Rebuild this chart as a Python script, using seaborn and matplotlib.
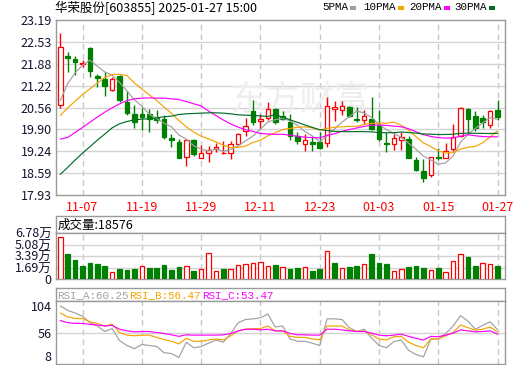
import numpy as np
import pandas as pd
import matplotlib
matplotlib.use("Agg")
import matplotlib.pyplot as plt
import seaborn as sns
from matplotlib.patches import Rectangle

# ---- data (华荣股份 603855, daily) ----
open_ = [20.64, 22.10, 22.03, 21.87, 22.36, 21.50, 21.43, 21.09, 21.50, 20.72,
         20.37, 20.37, 20.37, 20.24, 20.20, 19.64, 19.53, 19.06, 19.59, 19.04,
         19.19, 19.31, 19.18, 19.18, 19.46, 19.86, 20.44, 20.14, 20.25, 20.52,
         20.29, 20.12, 19.69, 19.46, 19.53, 19.53, 19.49, 20.52, 20.49, 20.59,
         20.21, 20.19, 20.20, 20.02, 19.49, 19.46, 19.58, 19.61, 18.98, 18.66,
         18.52, 19.08, 19.04, 19.31, 19.71, 20.50, 20.29, 20.25, 20.02, 20.47]
high = [22.79, 22.23, 22.10, 22.00, 22.38, 21.58, 21.63, 21.48, 21.53, 21.05,
        20.65, 20.55, 20.50, 20.49, 20.32, 19.76, 19.61, 19.61, 19.61, 19.44,
        19.41, 19.48, 19.56, 19.54, 19.78, 20.25, 20.79, 20.35, 20.72, 20.55,
        20.45, 20.35, 19.81, 19.76, 19.71, 19.81, 20.89, 20.77, 20.75, 20.62,
        20.59, 20.49, 20.89, 20.47, 19.81, 19.76, 19.81, 19.71, 19.08, 19.01,
        19.08, 19.34, 19.48, 20.07, 20.59, 20.54, 20.44, 20.32, 20.49, 20.80]
low = [20.55, 21.63, 21.53, 21.78, 21.48, 21.17, 20.92, 21.07, 20.74, 20.32,
       19.94, 19.87, 19.81, 20.09, 19.61, 19.38, 19.03, 18.81, 19.09, 19.04,
       18.91, 19.21, 19.16, 19.01, 19.44, 19.71, 20.02, 19.92, 20.19, 20.07,
       20.17, 19.59, 19.46, 19.24, 19.24, 19.31, 19.36, 20.15, 20.34, 20.27,
       20.12, 20.07, 19.88, 19.54, 19.21, 19.28, 19.28, 19.03, 18.66, 18.33,
       18.48, 18.98, 19.03, 19.26, 19.66, 19.76, 19.86, 19.95, 19.95, 20.19]
close = [22.38, 22.06, 21.93, 21.89, 21.66, 21.45, 21.22, 21.43, 20.80, 20.39,
         20.12, 20.27, 20.20, 20.17, 19.68, 19.58, 19.04, 19.58, 19.16, 19.20,
         19.27, 19.37, 19.20, 19.46, 19.76, 19.99, 20.12, 20.22, 20.52, 20.12,
         20.21, 19.71, 19.56, 19.59, 19.46, 19.34, 20.60, 20.58, 20.61, 20.30,
         20.18, 20.29, 19.92, 19.61, 19.47, 19.64, 19.68, 19.04, 18.68, 18.45,
         19.06, 19.04, 19.26, 19.68, 20.54, 20.22, 19.95, 20.12, 20.44, 20.27]
volume = [61640, 36900, 28100, 19400, 23800, 22300, 19400, 10200, 15000, 13600,
          15000, 18900, 16500, 16500, 20900, 13600, 17900, 18900, 12100, 15000,
          37800, 11600, 15000, 15000, 20400, 22300, 23800, 25200, 18900, 20900,
          17500, 15000, 16500, 17500, 12100, 15000, 40700, 23800, 16000, 17900,
          19400, 22300, 36900, 23800, 22300, 12100, 15000, 17900, 19400, 16500,
          13600, 16500, 10700, 26700, 36900, 32500, 19400, 23800, 22300, 18576]

# moving-average values visible at the left edge (history before the window)
ma5_head = [20.77, 21.28, 21.60, 21.83]
ma10_head = [20.32, 20.55, 20.75, 20.95, 21.12, 21.30, 21.46, 21.55, 21.56]
ma20_head = [19.61, 19.66, 19.81, 19.96, 20.12, 20.27, 20.42, 20.55, 20.67, 20.77,
             20.82, 20.84, 20.85, 20.84, 20.84, 20.82, 20.80, 20.74, 20.67]
ma30_head = [18.55, 18.76, 18.98, 19.19, 19.38, 19.58, 19.76, 19.95, 20.07, 20.14,
             20.19, 20.21, 20.22, 20.25, 20.28, 20.30, 20.35, 20.37, 20.38, 20.39,
             20.40, 20.40, 20.39, 20.37, 20.34, 20.33, 20.32, 20.31, 20.29]

rsi_a = [96.6, 89.7, 85.7, 80.8, 70.9, 65.9, 57.5, 61.9, 43.6, 36.2,
         31.3, 37.7, 36.2, 34.7, 25.3, 23.8, 17.9, 41.2, 32.7, 34.7,
         39.7, 44.6, 41.2, 54.5, 70.9, 75.8, 76.8, 78.3, 84.2, 64.4,
         65.9, 46.1, 42.6, 42.6, 39.7, 36.2, 76.8, 76.8, 75.8, 63.4,
         57.5, 61.0, 47.6, 36.2, 32.7, 42.1, 44.6, 28.8, 22.3, 18.9,
         46.1, 46.1, 54.5, 65.9, 81.7, 73.3, 61.0, 66.9, 72.3, 60.25]
rsi_b = [85.7, 79.8, 77.3, 77.3, 72.3, 69.9, 65.9, 68.4, 56.0, 52.0,
         51.0, 52.0, 52.0, 48.6, 45.1, 42.6, 38.7, 47.1, 42.6, 42.6,
         44.6, 46.1, 44.6, 51.0, 58.5, 61.0, 61.9, 61.9, 65.9, 58.5,
         58.5, 50.1, 48.6, 48.6, 46.1, 45.1, 65.9, 65.9, 65.9, 60.0,
         57.5, 58.5, 52.5, 46.1, 44.6, 49.6, 50.1, 41.2, 36.2, 32.7,
         46.1, 46.1, 51.0, 56.0, 67.4, 63.4, 59.5, 61.0, 64.4, 56.47]
rsi_c = [74.3, 70.9, 69.9, 69.9, 68.4, 67.4, 65.9, 66.9, 61.0, 58.5,
         57.0, 57.5, 57.5, 56.0, 54.5, 52.5, 50.1, 52.5, 52.0, 52.0,
         52.0, 52.0, 52.5, 54.5, 58.5, 61.0, 61.0, 60.0, 61.0, 58.5,
         58.5, 54.5, 52.5, 52.5, 52.0, 52.0, 61.0, 61.0, 60.0, 58.5,
         57.5, 57.5, 55.0, 52.0, 51.0, 52.0, 53.5, 50.1, 47.1, 44.6,
         50.1, 49.6, 52.0, 55.0, 60.0, 58.5, 57.0, 57.5, 58.5, 53.47]

price_ticks = [17.93, 18.59, 19.24, 19.90, 20.56, 21.22, 21.88, 22.53, 23.19]
vol_ticks = [0, 1.69, 3.39, 5.08, 6.78]
vol_tick_labels = ["0", "1.69万", "3.39万", "5.08万", "6.78万"]
rsi_ticks = [8, 56, 104]

# trading days 2024-11-04 .. 2025-01-27 (New Year closed)
days = pd.bdate_range("2024-11-04", "2025-01-27")
days = days[days != pd.Timestamp("2025-01-01")]
date_labels = days.strftime("%m-%d")

RED = "#ff0000"
GREEN = "#008000"
C_MA5, C_MA10, C_MA20, C_MA30 = "#a0a0a0", "#f5a200", "#ff00ff", "#006e28"
GRID = "#d4d4d4"
VGRID = "#c8c8c8"
EDGE = "#9a9a9a"
TXT = "#14142e"

sns.set_theme(style="white")
plt.rcParams["font.family"] = ["Noto Sans CJK SC", "DejaVu Sans"]
plt.rcParams["axes.unicode_minus"] = False

n = len(close)
x = np.arange(n)
o, h, l, c = map(np.array, (open_, high, low, close))
up = c >= o
vol_up = np.r_[True, c[1:] > c[:-1]]


def with_head(values, head, win):
    s = pd.Series(values).rolling(win).mean().to_numpy()
    s[:win - 1] = head
    return s


ma5 = with_head(close, ma5_head, 5)
ma10 = with_head(close, ma10_head, 10)
ma20 = with_head(close, ma20_head, 20)
ma30 = with_head(close, ma30_head, 30)

W, H = 520, 365
fig = plt.figure(figsize=(W / 100, H / 100), dpi=100)


def box(x0, y0, x1, y1):
    return [x0 / W, 1 - y1 / H, (x1 - x0) / W, (y1 - y0) / H]


X0, X1 = 56, 505
ax = fig.add_axes(box(X0, 20, X1, 195))
axvh = fig.add_axes(box(X0, 216, X1, 233))
axv = fig.add_axes(box(X0, 233, X1, 279))
axrh = fig.add_axes(box(X0, 288, X1, 301))
axr = fig.add_axes(box(X0, 301, X1, 364))

xlim = (-0.58, 60.0)
tick_idx = list(range(3, n, 8))

for a in (ax, axvh, axv, axrh, axr):
    a.set_facecolor("white")
    for sp in a.spines.values():
        sp.set_color(EDGE)
        sp.set_linewidth(1.0)
    a.set_xlim(*xlim)
    a.tick_params(length=0, labelsize=9, colors=TXT, pad=3)

for a in (axvh, axrh):
    a.set_xticks([])
    a.set_yticks([])

# vertical dashed date lines
for a in (ax, axv, axr):
    for t in tick_idx:
        a.axvline(t, color=VGRID, lw=1, ls=(0, (4, 3)), zorder=0.5)

# ---- price panel ----
ax.set_ylim(price_ticks[0], price_ticks[-1])
for p in price_ticks[1:-1]:
    ax.axhline(p, color=GRID, lw=1, zorder=0.5)
ax.set_yticks(price_ticks, labels=[f"{p:.2f}" for p in price_ticks])
ax.set_xticks(tick_idx, labels=[date_labels[i] for i in tick_idx])
ax.tick_params(axis="x", colors=RED, pad=4)
ax.tick_params(axis="y", colors=TXT)

# faint site watermark
ax.text(0.543, 0.54, "东方财富", transform=ax.transAxes, fontsize=25,
        color="#eeeeee", ha="center", va="center", zorder=0.8)

cols = np.where(up, RED, GREEN)
ax.vlines(x, l, h, colors=cols, lw=1, zorder=2)
body_h = np.maximum(np.abs(c - o), 0.012)
ax.bar(x, body_h, bottom=np.minimum(o, c), width=0.62,
       color=np.where(up, "white", GREEN), edgecolor=cols, linewidth=0.9, zorder=3)

for vals, col in ((ma5, C_MA5), (ma10, C_MA10), (ma20, C_MA20), (ma30, C_MA30)):
    sns.lineplot(x=x, y=vals, ax=ax, color=col, lw=0.85, legend=False, zorder=4)
ax.set_xlabel("")
ax.set_ylabel("")

# ---- volume panel ----
axvh.text(0.004, 0.45, "成交量:18576", transform=axvh.transAxes, fontsize=9,
          color="black", va="center", ha="left")
vcols = np.where(vol_up, RED, GREEN)
axv.set_ylim(0, vol_ticks[-1])
for v in vol_ticks[1:-1]:
    axv.axhline(v, color=GRID, lw=1, zorder=0.5)
axv.bar(x, np.array(volume) / 1e4, width=0.62, color=np.where(vol_up, "white", GREEN),
        edgecolor=vcols, linewidth=0.9, zorder=3)
axv.set_yticks(vol_ticks, labels=vol_tick_labels)
axv.set_xticks([])

# ---- RSI panel ----
hdr = [("RSI_A:60.25", C_MA5, 57), ("RSI_B:56.47", C_MA10, 129), ("RSI_C:53.47", C_MA20, 202)]
for s, col, px in hdr:
    axrh.text((px - X0) / (X1 - X0), 0.45, s, transform=axrh.transAxes, fontsize=7.8,
              family="Liberation Mono", color=col, va="center", ha="left")

axr.set_ylim(rsi_ticks[0], rsi_ticks[-1])
axr.axhline(56, color=GRID, lw=1, zorder=0.5)
for vals, col in ((rsi_a, C_MA5), (rsi_b, C_MA10), (rsi_c, C_MA20)):
    sns.lineplot(x=x, y=vals, ax=axr, color=col, lw=0.85, legend=False, zorder=4)
axr.set_xlabel("")
axr.set_ylabel("")
axr.set_xticks([])
axr.set_yticks(rsi_ticks, labels=[str(v) for v in rsi_ticks])
rl = axr.get_yticklabels()
rl[0].set_va("bottom")
rl[-1].set_va("top")

# ---- title and MA legend ----
fig.text(55 / W, 1 - 8 / H, "华荣股份[603855] 2025-01-27 15:00", fontsize=9,
         color="black", va="center", ha="left")
legend = [("5PMA", C_MA5, 322), ("10PMA", C_MA10, 363), ("20PMA", C_MA20, 409), ("30PMA", C_MA30, 454)]
for s, col, px in legend:
    t = fig.text(px / W, 1 - 7.5 / H, s, fontsize=7.8, family="Liberation Mono",
                 color="black", va="center", ha="left")
    fig.canvas.draw()
    bb = t.get_window_extent()
    fig.add_artist(Rectangle((bb.x1 / W + 2 / W, 1 - 9.5 / H), 6 / W, 4 / H,
                             transform=fig.transFigure, color=col, lw=0))

fig.savefig("out.png", dpi=100)
